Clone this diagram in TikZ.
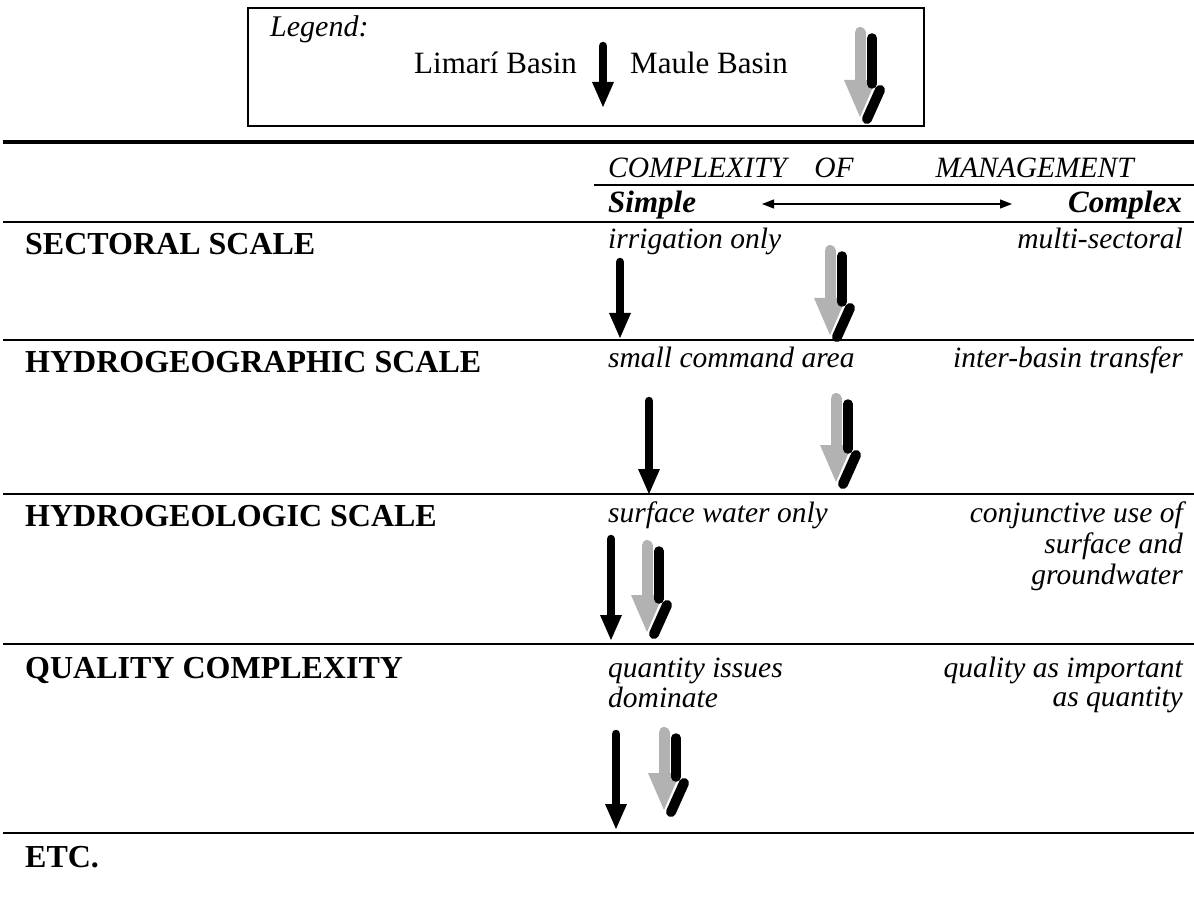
\documentclass[tikz,border=0pt]{standalone}
\usepackage{fontspec}
\setmainfont{Liberation Serif}
\usetikzlibrary{arrows.meta}
\definecolor{mgray}{gray}{0.7}
% Limari arrow: x, top, tip
\newcommand\limariarrow[3]{%
  \draw[line width=8.5pt,line cap=round] (#1,{#2+4}) -- (#1,{#3-22});
  \fill ({#1-11},{#3-25}) -- ({#1+11},{#3-25}) -- (#1,#3) -- cycle;}
% Maule arrow: x, top, tip
\newcommand\maulearrow[3]{%
  \draw[mgray,line width=11pt,line cap=round] (#1,{#2+5.5}) -- (#1,{#3-34});
  \fill[mgray] ({#1-16},{#3-37}) -- ({#1+16},{#3-37}) -- (#1,#3) -- cycle;
  \draw[line width=9.5pt,line cap=round] ({#1+12},{#2+11}) -- ({#1+12},{#3-33});
  \draw[line width=10pt,line cap=round] ({#1+20},{#3-27}) -- ({#1+7},{#3+2});}
\begin{document}
\begin{tikzpicture}[x=1pt,y=-1pt,
  rule/.style={line width=2.4pt},
  toprule/.style={line width=3.5pt},
  title/.style={anchor=west,inner sep=0pt,font=\fontsize{32}{34}\selectfont\bfseries,text height=24pt,text depth=3pt},
  midtxt/.style={anchor=west,inner sep=0pt,font=\fontsize{29.5}{31}\selectfont\itshape,text height=20pt,text depth=6pt},
  righttxt/.style={anchor=east,inner sep=0pt,font=\fontsize{29.5}{31}\selectfont\itshape,text height=20pt,text depth=6pt},
  hdr/.style={inner sep=0pt,font=\fontsize{29.5}{31}\selectfont\itshape,text height=21pt,text depth=0pt},
  endtxt/.style={inner sep=0pt,font=\fontsize{31}{33}\selectfont\bfseries\itshape,text height=20pt,text depth=6pt},
  legtxt/.style={anchor=west,inner sep=0pt,font=\fontsize{31}{33}\selectfont,text height=21pt,text depth=6pt},
  dbl/.style={{Triangle[length=12pt,width=9pt]}-{Triangle[length=12pt,width=9pt]},line width=1.3pt}
]
\useasboundingbox (0,0) rectangle (1194,909);
% legend
\draw[line width=1.3pt] (248,8) rectangle (924,126);
\node[legtxt,font=\fontsize{30}{32}\selectfont\itshape] (leg) at (270,29) {Legend:};
\node[legtxt] (lim) at (414,66) {Limarí Basin};
\limariarrow{603}{42}{107}
\node[legtxt] (mau) at (630,66) {Maule Basin};
\maulearrow{860}{27}{117}
% header
\draw[toprule] (3,142) -- (1194,142);
\node[hdr,anchor=west] (cplx) at (608,167) {COMPLEXITY};
\node[hdr,anchor=center] (of) at (834,167) {OF};
\node[hdr,anchor=east] (mgmt) at (1134,167) {MANAGEMENT};
\draw[rule] (594,185) -- (1194,185);
\node[endtxt,anchor=west] (simple) at (608,206) {Simple};
\node[endtxt,anchor=east] (complex) at (1182,206) {Complex};
\coordinate (dl) at (762,204);
\coordinate (dr) at (1012,204);
\draw[dbl] (dl) -- (dr);
\draw[rule] (3,222) -- (1194,222);
% sectoral
\node[title] (sect) at (25,244) {SECTORAL SCALE};
\node[midtxt] (irr) at (608,242) {irrigation only};
\node[righttxt] (multi) at (1183,242) {multi-sectoral};
\limariarrow{620}{258}{338}
\maulearrow{830}{245}{335}
\draw[rule] (3,340) -- (1194,340);
% hydrogeographic
\node[title] (hgeo) at (25,362) {HYDROGEOGRAPHIC SCALE};
\node[midtxt] (small) at (608,360) {small command area};
\node[righttxt] (inter) at (1183,360) {inter-basin transfer};
\limariarrow{649}{397}{494}
\maulearrow{836}{393}{482}
\draw[rule] (3,494) -- (1194,494);
% hydrogeologic
\node[title] (hgeol) at (25,516) {HYDROGEOLOGIC SCALE};
\node[midtxt] (surf) at (608,515) {surface water only};
\node[righttxt] (conj1) at (1183,515) {conjunctive use of};
\node[righttxt] (conj2) at (1183,546) {surface and};
\node[righttxt] (conj3) at (1183,577) {groundwater};
\limariarrow{611}{535}{640}
\maulearrow{647}{540}{632}
\draw[rule] (3,644) -- (1194,644);
% quality
\node[title] (qual) at (25,668) {QUALITY COMPLEXITY};
\node[midtxt] (quant1) at (608,670) {quantity issues};
\node[midtxt] (quant2) at (608,700) {dominate};
\node[righttxt] (qimp1) at (1183,670) {quality as important};
\node[righttxt] (qimp2) at (1183,699) {as quantity};
\limariarrow{616}{730}{829}
\maulearrow{664}{727}{810}
\draw[rule] (3,833) -- (1194,833);
% etc
\node[title] (etc) at (25,857) {ETC.};
\end{tikzpicture}
\end{document}
